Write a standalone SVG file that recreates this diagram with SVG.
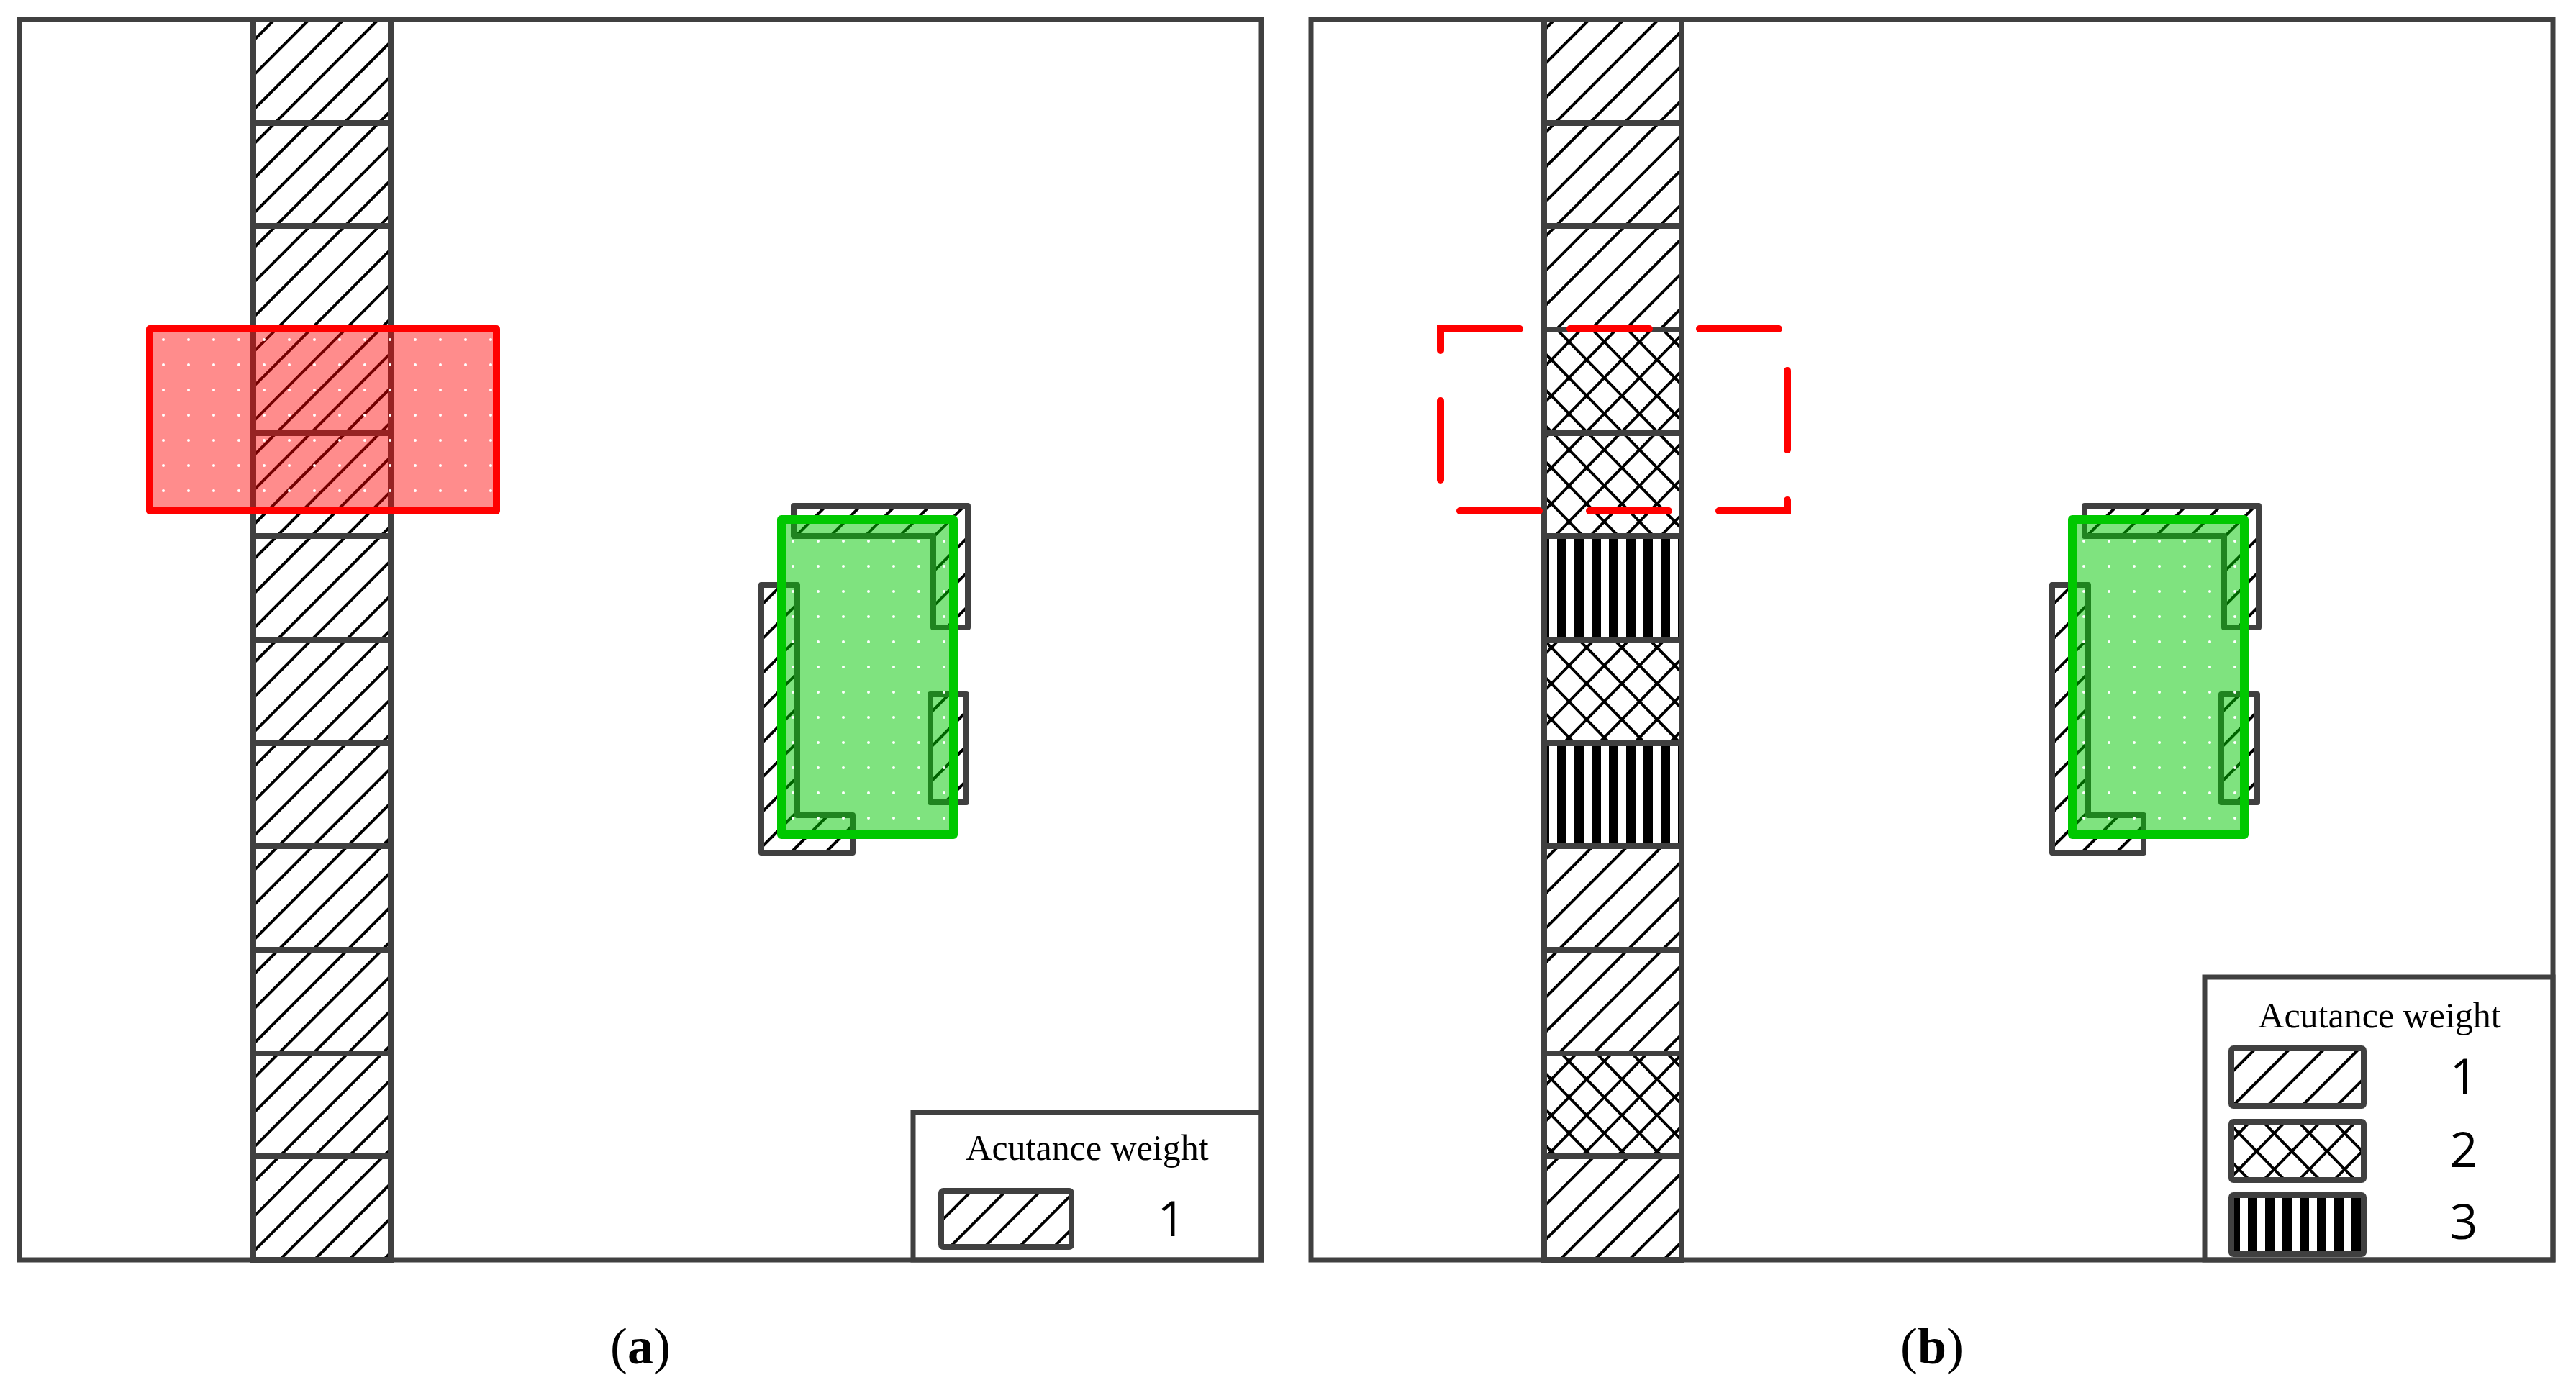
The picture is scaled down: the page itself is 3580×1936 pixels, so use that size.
<svg xmlns="http://www.w3.org/2000/svg" width="3580" height="1936" viewBox="0 0 3580 1936">
<style>
.frame{fill:none;stroke:#404040;stroke-width:7}
.cell{stroke:#404040;stroke-width:8}
.h{fill:url(#hatch)}
.x{fill:url(#cross)}
.v{fill:url(#vstr)}
.piece{fill:url(#hatch);stroke:#404040;stroke-width:8;stroke-linejoin:round}
.green{fill:#00c800;fill-opacity:0.5;stroke:#00c800;stroke-width:12;stroke-linejoin:round}
.greendots{fill:url(#dots);stroke:none}
.red{fill:#ff0000;fill-opacity:0.45;stroke:#ff0000;stroke-width:10;stroke-linejoin:round}
.reddash{fill:none;stroke:#ff0000;stroke-width:10;stroke-dasharray:110 70;stroke-linecap:round}
.lbl{font-family:"Liberation Serif",serif;font-size:50px;fill:#000;text-anchor:middle}
.num{font-family:"Open Sans","Liberation Sans",sans-serif;font-size:68px;fill:#000;text-anchor:middle}
.cap{font-family:"Liberation Serif",serif;font-size:72px;fill:#000;text-anchor:middle}
</style>
<defs>
<pattern id="hatch" patternUnits="userSpaceOnUse" width="34" height="34" patternTransform="rotate(45)">
<rect width="34" height="34" fill="#fff"/>
<line x1="17" y1="0" x2="17" y2="34" stroke="#000" stroke-width="4"/>
</pattern>
<pattern id="cross" patternUnits="userSpaceOnUse" width="49" height="50">
<rect width="49" height="50" fill="#fff"/>
<path d="M0,0L49,50M49,0L0,50" stroke="#000" stroke-width="4"/>
</pattern>
<pattern id="vstr" patternUnits="userSpaceOnUse" width="24" height="24" x="4">
<rect width="24" height="24" fill="#fff"/>
<rect width="13" height="24" fill="#000"/>
</pattern>
<pattern id="dots" patternUnits="userSpaceOnUse" width="35" height="35">
<circle cx="17" cy="17" r="2" fill="#fff"/>
</pattern>
</defs>

<g id="panel-a">
<rect class="frame" x="27" y="27" width="1726" height="1724"/>
</g>
<g id="column-a">
<rect class="cell h" x="352" y="27" width="191" height="144"/>
<rect class="cell h" x="352" y="171" width="191" height="143"/>
<rect class="cell h" x="352" y="314" width="191" height="144"/>
<rect class="cell h" x="352" y="458" width="191" height="144"/>
<rect class="cell h" x="352" y="602" width="191" height="143"/>
<rect class="cell h" x="352" y="745" width="191" height="144"/>
<rect class="cell h" x="352" y="889" width="191" height="144"/>
<rect class="cell h" x="352" y="1033" width="191" height="143"/>
<rect class="cell h" x="352" y="1176" width="191" height="144"/>
<rect class="cell h" x="352" y="1320" width="191" height="144"/>
<rect class="cell h" x="352" y="1464" width="191" height="143"/>
<rect class="cell h" x="352" y="1607" width="191" height="144"/>
</g>
<g id="red-window-a">
<rect class="red" x="208" y="457" width="482" height="253"/>
<rect class="greendots" x="212" y="461" width="474" height="245"/>
</g>
<g id="patch-a">
<path class="piece" d="M1103,703H1345V872H1297V745H1103Z"/>
<path class="piece" d="M1058,813H1108V1133H1185V1185H1058Z"/>
<rect class="piece" x="1293" y="965" width="50" height="150"/>
<rect class="green" x="1086" y="722" width="239" height="438"/>
<rect class="greendots" x="1092" y="728" width="227" height="426"/>
</g>
<g id="legend-a">
<rect class="frame" x="1269" y="1546" width="484" height="205"/>
<text class="lbl" x="1511" y="1612">Acutance weight</text>
<rect class="cell h" x="1308" y="1655" width="181" height="78" rx="3"/>
<text class="num" x="1628" y="1718">1</text>
</g>
<text class="cap" x="890" y="1895">(<tspan font-weight="bold">a</tspan>)</text>

<g id="panel-b">
<rect class="frame" x="1822" y="27" width="1726" height="1724"/>
</g>
<g id="column-b">
<rect class="cell h" x="2146" y="27" width="191" height="144"/>
<rect class="cell h" x="2146" y="171" width="191" height="143"/>
<rect class="cell h" x="2146" y="314" width="191" height="144"/>
<rect class="cell x" x="2146" y="458" width="191" height="144"/>
<rect class="cell x" x="2146" y="602" width="191" height="143"/>
<rect class="cell v" x="2146" y="745" width="191" height="144"/>
<rect class="cell x" x="2146" y="889" width="191" height="144"/>
<rect class="cell v" x="2146" y="1033" width="191" height="143"/>
<rect class="cell h" x="2146" y="1176" width="191" height="144"/>
<rect class="cell h" x="2146" y="1320" width="191" height="144"/>
<rect class="cell x" x="2146" y="1464" width="191" height="143"/>
<rect class="cell h" x="2146" y="1607" width="191" height="144"/>
</g>
<g id="red-window-b">
<rect class="reddash" x="2002" y="457" width="482" height="253"/>
</g>
<g id="patch-b" transform="translate(1794,0)">
<path class="piece" d="M1103,703H1345V872H1297V745H1103Z"/>
<path class="piece" d="M1058,813H1108V1133H1185V1185H1058Z"/>
<rect class="piece" x="1293" y="965" width="50" height="150"/>
<rect class="green" x="1086" y="722" width="239" height="438"/>
<rect class="greendots" x="1092" y="728" width="227" height="426"/>
</g>
<g id="legend-b">
<rect class="frame" x="3064" y="1358" width="484" height="393"/>
<text class="lbl" x="3307" y="1428">Acutance weight</text>
<rect class="cell h" x="3101" y="1457" width="184" height="80" rx="3"/>
<rect class="cell x" x="3101" y="1559" width="184" height="81" rx="3"/>
<rect class="cell v" x="3101" y="1661" width="184" height="82" rx="3"/>
<text class="num" x="3424" y="1520">1</text>
<text class="num" x="3424" y="1622">2</text>
<text class="num" x="3424" y="1722">3</text>
</g>
<text class="cap" x="2685" y="1895">(<tspan font-weight="bold">b</tspan>)</text>
<g id="connectors"/>
</svg>
